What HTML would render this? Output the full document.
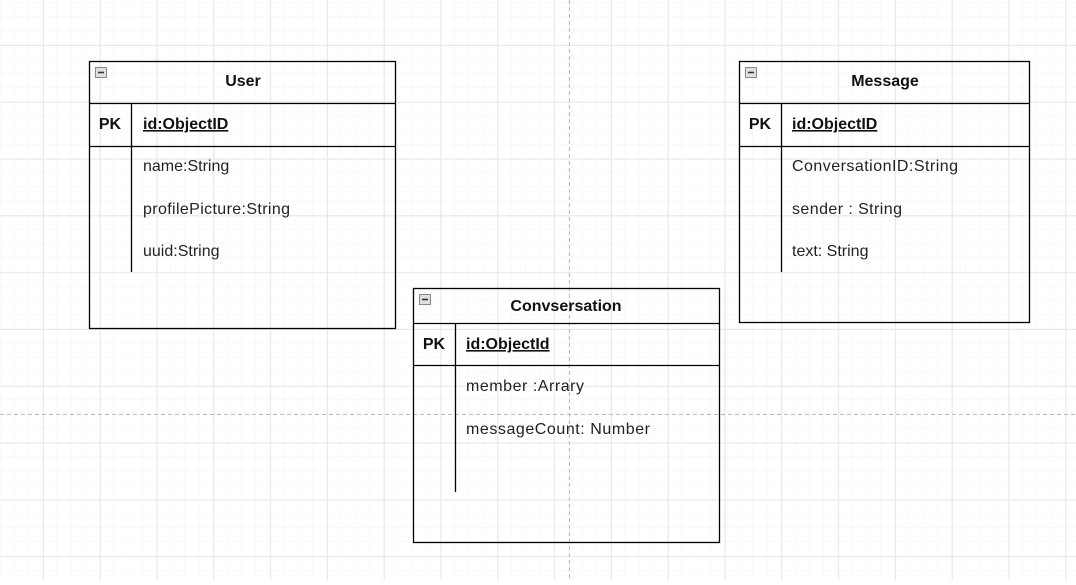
<!DOCTYPE html>
<html><head><meta charset="utf-8"><style>
body{margin:0;width:1076px;height:580px;overflow:hidden;background:#fff;font-family:"Liberation Sans",Arial,sans-serif;}
</style></head><body>
<svg width="1076" height="580" xmlns="http://www.w3.org/2000/svg" font-family="Liberation Sans, Arial, sans-serif">
<defs>
<pattern id="minor" width="14.2" height="14.2" patternUnits="userSpaceOnUse" x="0.4" y="2.4">
<path d="M14.2 0V14.2M0 14.2H14.2" stroke="#f3f3f3" stroke-width="1" fill="none"/>
</pattern>
<pattern id="major" width="56.8" height="56.8" patternUnits="userSpaceOnUse" x="43" y="45">
<path d="M0.5 0V56.8M0 0.5H56.8" stroke="#e8e8e8" stroke-width="1" fill="none"/>
</pattern>
</defs>
<rect width="1076" height="580" fill="url(#minor)"/>
<rect width="1076" height="580" fill="url(#major)"/>
<line x1="569.5" y1="0" x2="569.5" y2="580" stroke="#bbb" stroke-dasharray="4,3"/>
<line x1="0" y1="414.5" x2="1076" y2="414.5" stroke="#bbb" stroke-dasharray="4,3"/>

<g stroke="#000" stroke-width="1.3" fill="none">
<rect x="89.5" y="61.5" width="306" height="267"/>
<rect x="413.5" y="288.5" width="306" height="254"/>
<rect x="739.5" y="61.5" width="290" height="261"/>
</g>
<g stroke="#000" stroke-width="1.3">
<line x1="89" y1="103.5" x2="396" y2="103.5"/><line x1="89" y1="146.5" x2="396" y2="146.5"/><line x1="131.5" y1="103" x2="131.5" y2="272"/>
<line x1="413" y1="323.5" x2="720" y2="323.5"/><line x1="413" y1="365.5" x2="720" y2="365.5"/><line x1="455.5" y1="323" x2="455.5" y2="492"/>
<line x1="739" y1="103.5" x2="1030" y2="103.5"/><line x1="739" y1="146.5" x2="1030" y2="146.5"/><line x1="781.5" y1="103" x2="781.5" y2="272"/>
</g>
<g fill="#e0e0e0" stroke="#888">
<rect x="95.5" y="67.5" width="11" height="10"/><rect x="419.5" y="294.5" width="11" height="10"/><rect x="745.5" y="67.5" width="11" height="10"/>
</g>
<g stroke="#333" stroke-width="1.6"><line x1="98" y1="72.5" x2="104" y2="72.5"/><line x1="422" y1="299.5" x2="428" y2="299.5"/><line x1="748" y1="72.5" x2="754" y2="72.5"/></g>

<g font-size="16" fill="#111">
<text x="243" y="86" text-anchor="middle" font-weight="bold">User</text>
<text x="110" y="129" text-anchor="middle" font-weight="bold">PK</text>
<text x="143" y="129" font-weight="bold" text-decoration="underline">id:ObjectID</text>
<text x="143" y="171" fill="#222">name:String</text>
<text x="143" y="214" fill="#222" textLength="147">profilePicture:String</text>
<text x="143" y="256" fill="#222">uuid:String</text>

<text x="566" y="311" text-anchor="middle" font-weight="bold">Convsersation</text>
<text x="434" y="349" text-anchor="middle" font-weight="bold">PK</text>
<text x="466" y="349" font-weight="bold" text-decoration="underline">id:ObjectId</text>
<text x="466" y="391" fill="#222" textLength="118">member :Arrary</text>
<text x="466" y="434" fill="#222" textLength="184">messageCount: Number</text>

<text x="885" y="86" text-anchor="middle" font-weight="bold">Message</text>
<text x="760" y="129" text-anchor="middle" font-weight="bold">PK</text>
<text x="792" y="129" font-weight="bold" text-decoration="underline">id:ObjectID</text>
<text x="792" y="171" fill="#222" textLength="166">ConversationID:String</text>
<text x="792" y="214" fill="#222" textLength="110">sender : String</text>
<text x="792" y="256" fill="#222">text: String</text>
</g>
</svg>
</body></html>
